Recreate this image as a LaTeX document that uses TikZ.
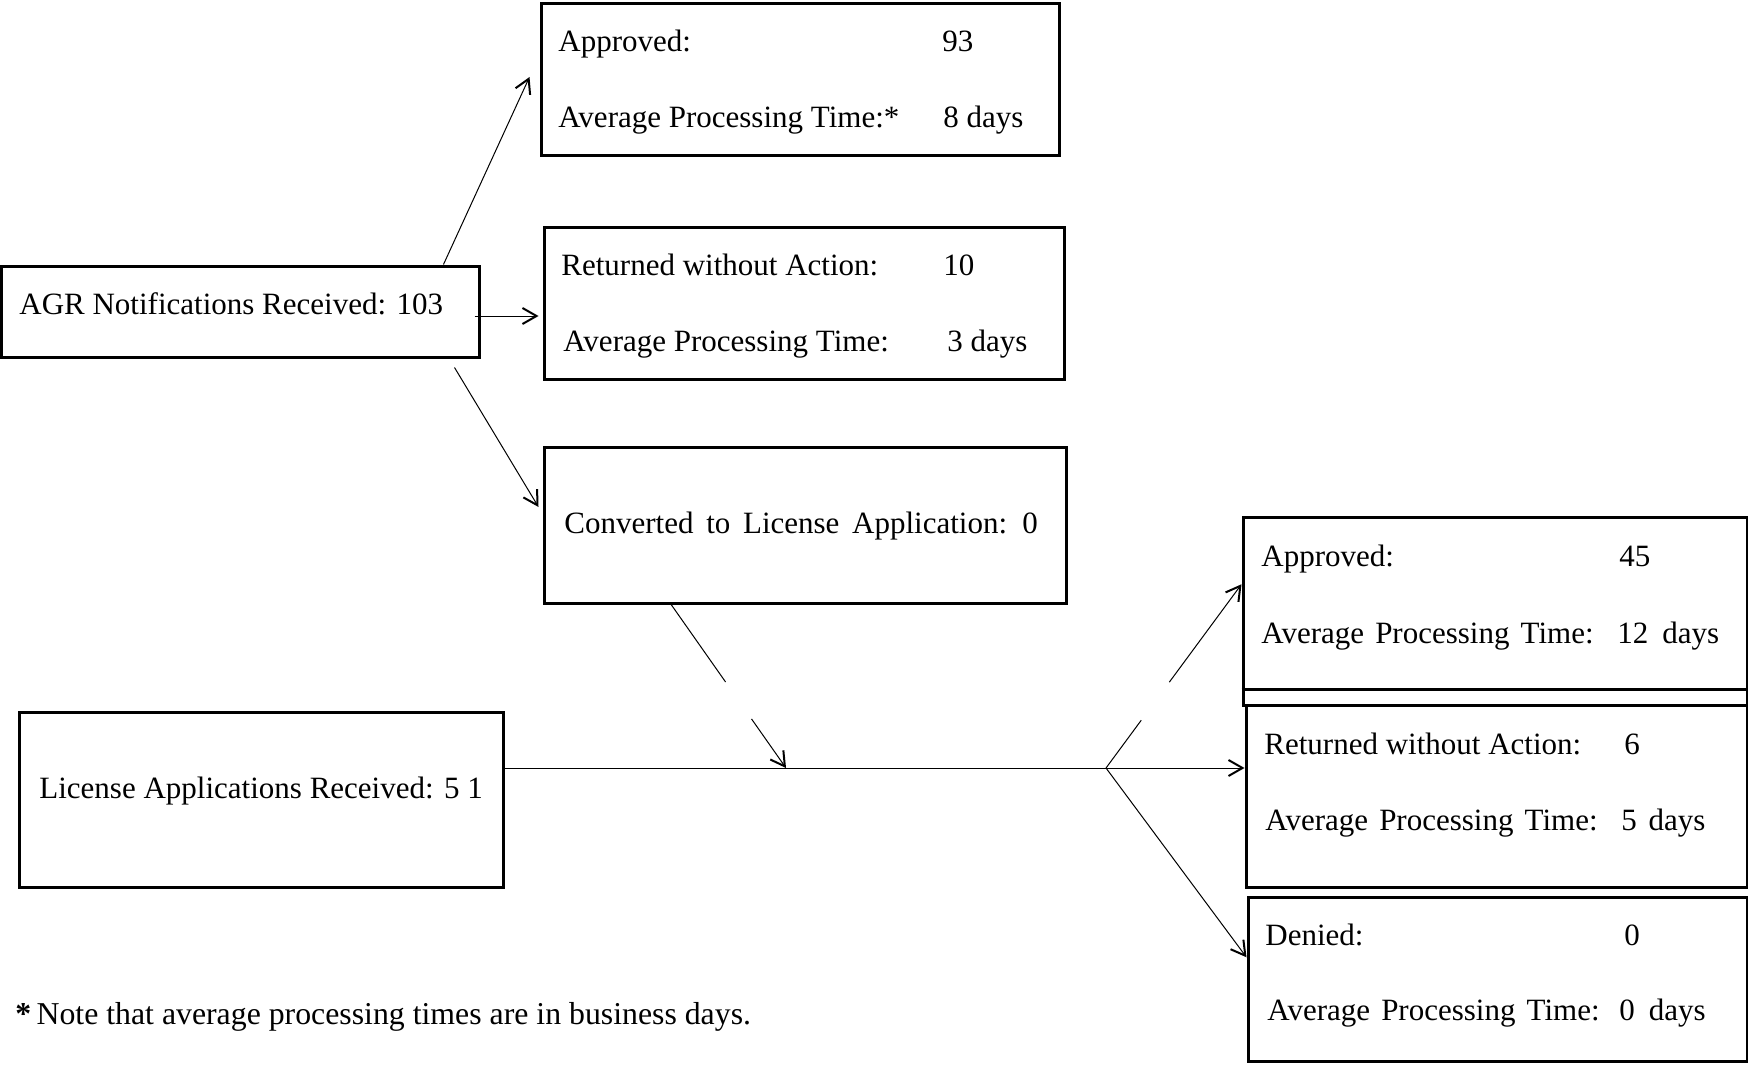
\documentclass[tikz,border=0pt]{standalone}
\usepackage{fontspec}
\setmainfont{Liberation Serif}
\usetikzlibrary{arrows.meta,calc,fit}
\newcommand\widesp{\spaceskip=0.45em\relax}
\newcommand\midsp{\spaceskip=0.36em\relax}
\begin{document}
\begin{tikzpicture}[x=0.5pt,y=-0.5pt,
  box/.style={draw,line width=1.5pt,rectangle,inner sep=0pt},
  conn/.style={line width=0.5pt,-{Straight Barb[length=7pt,width=8pt,line width=1pt]}},
  plain/.style={line width=0.5pt},
  txt/.style={anchor=base west,inner sep=0pt,font=\fontsize{15.5}{18}\selectfont}]
\useasboundingbox (0,0) rectangle (1748,1064);

% boxes
\node[box,fit={(1,266)(479,357)}] (agr) {};
\node[box,fit={(541,4)(1059,156)}] (ap1) {};
\node[box,fit={(544,227)(1064,379)}] (rw1) {};
\node[box,fit={(544,447)(1066,603)}] (cv) {};
\node[box,fit={(19,712)(503,887)}] (lic) {};
\node[box,fit={(1243,517)(1747,705)}] (ap2) {};
\node[box,fit={(1246,705)(1747,887)}] (rw2) {};
\node[box,fit={(1248,897)(1747,1061)}] (dn) {};
\draw[line width=1.5pt] ($(ap2.south west)+(0,-17)$) -- ($(ap2.south east)+(0,-17)$);

% texts
\node[txt] (agrt) at (19,314) {AGR Notifications Received: 103};
\node[txt] (ap1a) at (558,52) {Approved:};
\node[txt] (ap1b) at (942,52) {93};
\node[txt] (ap1c) at (558,128) {Average Processing Time:*};
\node[txt] (ap1d) at (943,128) {8 days};
\node[txt] (rw1a) at (561,275) {Returned without Action:};
\node[txt] (rw1b) at (943,275) {10};
\node[txt] (rw1c) at (563,351) {Average Processing Time:};
\node[txt] (rw1d) at (947,351) {3 days};
\node[txt] (cvt) at (564,533) {\spaceskip=0.41em\relax Converted to License Application: 0};
\node[txt] (lict) at (39,798) {License Applications Received: 5 1};
\node[txt] (ap2a) at (1261,566) {Approved:};
\node[txt] (ap2b) at (1619,566) {45};
\node[txt] (ap2c) at (1261,643) {\midsp Average Processing Time:};
\node[txt] (ap2d) at (1617,643) {\widesp 12 days};
\node[txt] (rw2a) at (1264,754) {Returned without Action:};
\node[txt] (rw2b) at (1624,754) {6};
\node[txt] (rw2c) at (1265,830) {\midsp Average Processing Time:};
\node[txt] (rw2d) at (1621,830) {\spaceskip=0.38em\relax 5 days};
\node[txt] (dna) at (1265,945) {Denied:};
\node[txt] (dnb) at (1624,945) {0};
\node[txt] (dnc) at (1267,1020) {\midsp Average Processing Time:};
\node[txt] (dnd) at (1619,1020) {\widesp 0 days};
\node[txt,font=\fontsize{15.9}{18}\selectfont] (note) at (15,1024) {\textbf{*}\,Note that average processing times are in business days.};

% connectors
\draw[conn] ($(agr.north west)!0.923!(agr.north east)$) -- ($(ap1.west)+(-10,-3)$);
\draw[conn] ($(agr.east)+(-6,4.5)$) -- ($(rw1.west)+(-4,13)$);
\draw[conn] ($(agr.south east)+(-26,9)$) -- ($(cv.west)+(-4,-18)$);

\coordinate (cvs) at ($(cv.south west)!0.245!(cv.south east)$);
\coordinate (hin) at (786,768);
\coordinate (jn) at (1106,768);
\coordinate (ap2in) at ($(ap2.north west)!0.36!(ap2.south west)$);
\draw[plain] (cvs) -- ($(cvs)!0.474!(hin)$);
\draw[conn] ($(cvs)!0.70!(hin)$) -- (hin);
\draw[conn] (lic.east |- jn) -- (rw2.west |- jn);
\draw[plain] (jn) -- ($(jn)!0.26!(ap2in)$);
\draw[conn] ($(jn)!0.467!(ap2in)$) -- (ap2in);
\draw[conn] (jn) -- ($(dn.north west)!0.37!(dn.south west)$);
\end{tikzpicture}
\end{document}
